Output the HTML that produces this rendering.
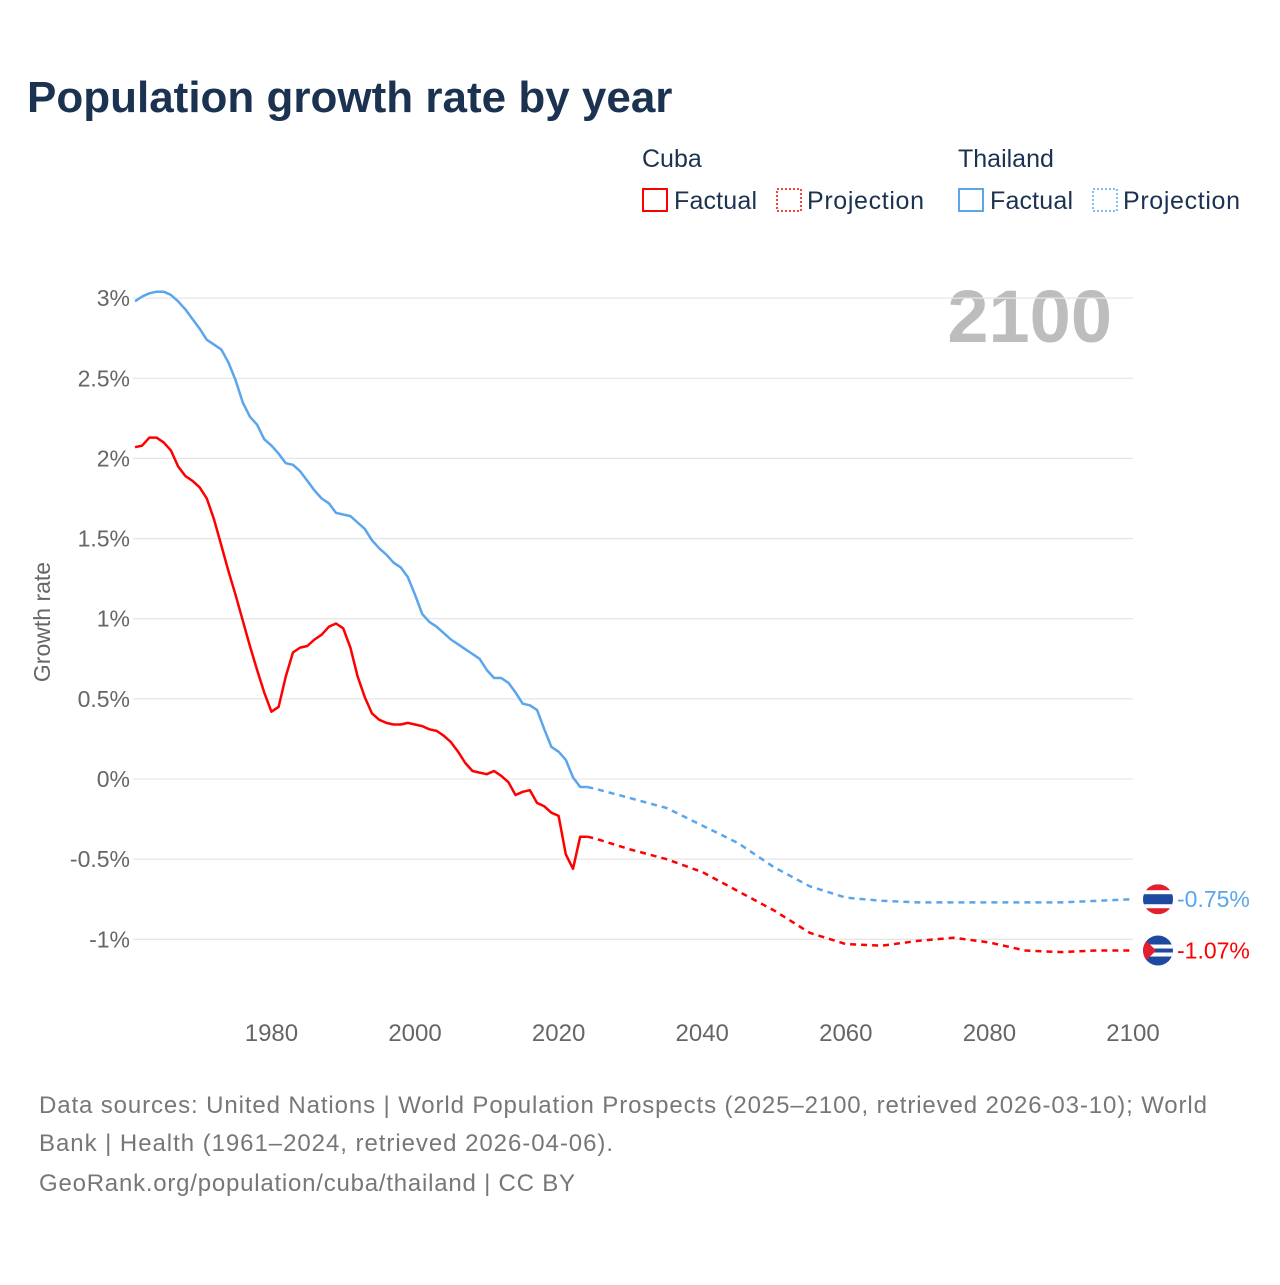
<!DOCTYPE html>
<html><head><meta charset="utf-8">
<style>
body{margin:0;background:#fff;font-family:"Liberation Sans",sans-serif;}
svg text{font-family:"Liberation Sans",sans-serif;}
</style></head>
<body>
<svg id="chart" width="1280" height="1280">
<defs>
<clipPath id="ct"><circle cx="1158" cy="899" r="15"/></clipPath>
<clipPath id="cc"><circle cx="1158" cy="950" r="15"/></clipPath>
</defs>
<text x="27" y="112" font-size="44" font-weight="bold" fill="#1b3250">Population growth rate by year</text>
<g font-size="25" fill="#1b3250">
<text x="642" y="167" fill="#1b3250">Cuba</text>
<text x="958" y="167" fill="#1b3250">Thailand</text>
<g><rect x="643" y="189" width="24" height="22" fill="none" stroke="#f00" stroke-width="2"/><text x="674" y="209" fill="#1b3250" textLength="83">Factual</text></g>
<g><rect x="777" y="189" width="24" height="22" fill="none" stroke="#f00" stroke-width="1.5" stroke-dasharray="2,2"/><text x="807" y="209" fill="#1b3250" textLength="117">Projection</text></g>
<g><rect x="959" y="189" width="24" height="22" fill="none" stroke="#5aa5ec" stroke-width="2"/><text x="990" y="209" fill="#1b3250" textLength="83">Factual</text></g>
<g><rect x="1093" y="189" width="24" height="22" fill="none" stroke="#5aa5ec" stroke-width="1.5" stroke-dasharray="2,2"/><text x="1123" y="209" fill="#1b3250" textLength="117">Projection</text></g>
</g>
<text x="1112" y="342" font-size="74" font-weight="bold" fill="#bdbdbd" text-anchor="end">2100</text>
<g id="grid"></g><g id="ylab"></g><g id="xlab"></g><g id="lines"></g>
<text transform="translate(50,622) rotate(-90)" font-size="23" fill="#666" text-anchor="middle">Growth rate</text>
<g font-size="24" fill="#777">
<text x="39" y="1113" textLength="1168">Data sources: United Nations | World Population Prospects (2025–2100, retrieved 2026-03-10); World</text>
<text x="39" y="1151" textLength="574">Bank | Health (1961–2024, retrieved 2026-04-06).</text>
<text x="39" y="1191" textLength="536">GeoRank.org/population/cuba/thailand | CC BY</text>
</g>
</svg>
<script>
const yTicks=[3,2.5,2,1.5,1,0.5,0,-0.5,-1];
const yTickLabels=["3%","2.5%","2%","1.5%","1%","0.5%","0%","-0.5%","-1%"];
const xTicks=[1980,2000,2020,2040,2060,2080,2100];
const factYears=[];for(let y=1961;y<=2024;y++)factYears.push(y);
const cubaFact=[2.07,2.08,2.13,2.13,2.10,2.05,1.95,1.89,1.86,1.82,1.75,1.62,1.46,1.30,1.15,0.99,0.83,0.68,0.54,0.42,0.45,0.64,0.79,0.82,0.83,0.87,0.90,0.95,0.97,0.94,0.82,0.64,0.51,0.41,0.37,0.35,0.34,0.34,0.35,0.34,0.33,0.31,0.30,0.27,0.23,0.17,0.10,0.05,0.04,0.03,0.05,0.02,-0.02,-0.10,-0.08,-0.07,-0.15,-0.17,-0.21,-0.23,-0.47,-0.56,-0.36,-0.36];
const thaiFact=[2.98,3.01,3.03,3.04,3.04,3.02,2.98,2.93,2.87,2.81,2.74,2.71,2.68,2.60,2.49,2.35,2.26,2.21,2.12,2.08,2.03,1.97,1.96,1.92,1.86,1.80,1.75,1.72,1.66,1.65,1.64,1.60,1.56,1.49,1.44,1.40,1.35,1.32,1.26,1.15,1.03,0.98,0.95,0.91,0.87,0.84,0.81,0.78,0.75,0.68,0.63,0.63,0.60,0.54,0.47,0.46,0.43,0.31,0.20,0.17,0.12,0.01,-0.05,-0.05];
const projYears=[2024,2025,2030,2035,2040,2045,2050,2055,2060,2065,2070,2075,2080,2085,2090,2095,2100];
const cubaProj=[-0.36,-0.37,-0.44,-0.50,-0.58,-0.70,-0.82,-0.96,-1.03,-1.04,-1.01,-0.99,-1.02,-1.07,-1.08,-1.07,-1.07];
const thaiProj=[-0.05,-0.06,-0.12,-0.18,-0.29,-0.40,-0.55,-0.67,-0.74,-0.76,-0.77,-0.77,-0.77,-0.77,-0.77,-0.76,-0.75];
const NS="http://www.w3.org/2000/svg";
const X=yr=>135+(yr-1961)*(1133-135)/(2100-1961);
const Y=v=>779-v*160.3;
function mk(t,a,p){const e=document.createElementNS(NS,t);for(const k in a)e.setAttribute(k,a[k]);p.appendChild(e);return e;}
const grid=document.getElementById('grid'),yl=document.getElementById('ylab'),xl=document.getElementById('xlab'),ln=document.getElementById('lines');
yTicks.forEach((v,i)=>{
 const g=mk('line',{x1:133,x2:1133,y1:Y(v),y2:Y(v),stroke:'#e6e6e6','stroke-width':1.3},grid);
 
 
 const t=mk('text',{x:130,y:Y(v)+8,'font-size':23,fill:'#666','text-anchor':'end'},yl);t.textContent=yTickLabels[i];
 
 
});
xTicks.forEach(v=>{
 const t=mk('text',{x:X(v),y:1041,'font-size':24,fill:'#666','text-anchor':'middle'},xl);t.textContent=v;
 
 
});
function path(xs,vs){return xs.map((x,i)=>(i?'L':'M')+X(x).toFixed(1)+' '+Y(vs[i]).toFixed(1)).join(' ');}
let p;
p=mk('path',{d:path(factYears,thaiFact),fill:'none',stroke:'#5aa5ec','stroke-width':2.5,'stroke-linejoin':'round'},ln);


p=mk('path',{d:path(projYears,thaiProj),fill:'none',stroke:'#5aa5ec','stroke-width':2.5,'stroke-dasharray':'6,5'},ln);


p=mk('path',{d:path(factYears,cubaFact),fill:'none',stroke:'#f00','stroke-width':2.5,'stroke-linejoin':'round'},ln);


p=mk('path',{d:path(projYears,cubaProj),fill:'none',stroke:'#f00','stroke-width':2.5,'stroke-dasharray':'6,5'},ln);


const ty=Y(thaiProj[thaiProj.length-1]),cy=Y(cubaProj[cubaProj.length-1]);
const fx=1158;
document.querySelector('#ct circle').setAttribute('cy',ty);
document.querySelector('#cc circle').setAttribute('cy',cy);
const tf=mk('g',{'clip-path':'url(#ct)'},ln);


mk('rect',{x:fx-15,y:ty-15,width:30,height:30,fill:'#e0202f'},tf);
mk('rect',{x:fx-15,y:ty-9,width:30,height:18,fill:'#fff'},tf);
mk('rect',{x:fx-15,y:ty-5,width:30,height:10,fill:'#1d4aa0'},tf);
const cf=mk('g',{'clip-path':'url(#cc)'},ln);


mk('rect',{x:fx-15,y:cy-15,width:30,height:30,fill:'#1d4aa0'},cf);
mk('rect',{x:fx-15,y:cy-6,width:30,height:4,fill:'#fff'},cf);
mk('rect',{x:fx-15,y:cy+2,width:30,height:4,fill:'#fff'},cf);
mk('path',{d:`M${fx-15} ${cy-13} L${fx-2} ${cy} L${fx-15} ${cy+13}Z`,fill:'#e0202f'},cf);
let t=mk('text',{x:1177,y:ty+8,'font-size':23,fill:'#5aa5ec'},ln);t.textContent='-0.75%';


t=mk('text',{x:1177,y:cy+8,'font-size':23,fill:'#f00'},ln);t.textContent='-1.07%';


</script>
</body></html>
